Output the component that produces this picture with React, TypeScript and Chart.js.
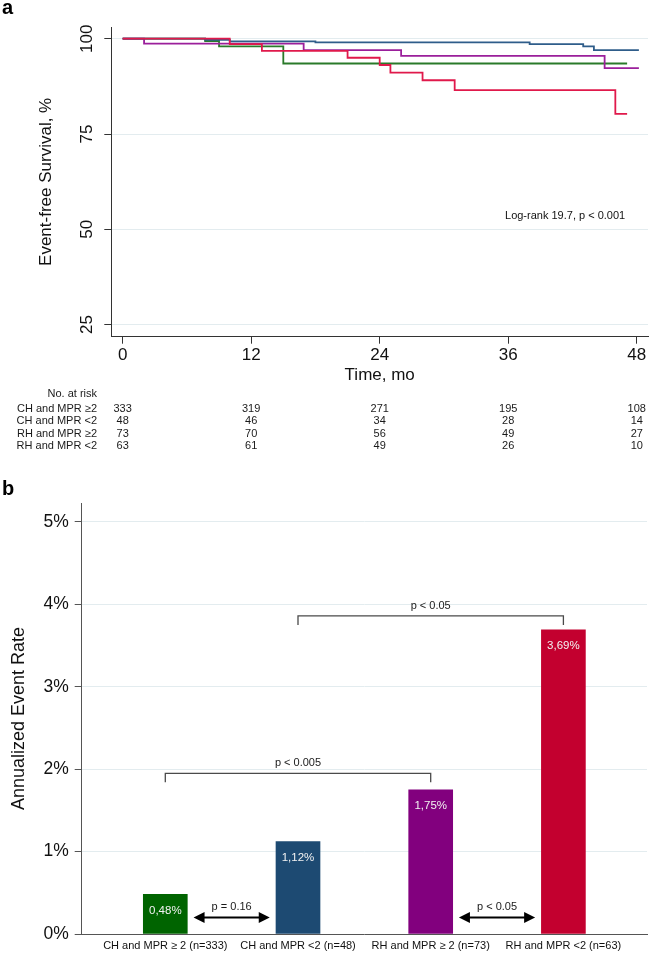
import React, { useEffect, useRef } from "react";
import { Chart, registerables } from "chart.js";

Chart.register(...registerables);

const FONT = "'Liberation Sans', Arial, Helvetica, sans-serif";

// ---------------- Panel a: Kaplan-Meier ----------------
const monthTicks = [0, 12, 24, 36, 48];
const survivalTicks = [25, 50, 75, 100];

const chGe2Times = [0, 7.7, 10, 18, 38, 43, 44, 48.2];
const chGe2Surv = [100, 99.7, 99.3, 99.05, 98.6, 98.0, 97.0, 97.0];
const chLt2Times = [0, 7.7, 9, 15, 47.1];
const chLt2Surv = [100, 99.4, 98.0, 93.5, 93.5];
const rhGe2Times = [0, 2, 16.9, 26, 45, 48.2];
const rhGe2Surv = [100, 98.7, 97.0, 95.5, 92.3, 92.3];
const rhLt2Times = [0, 10, 13, 21, 24, 25, 28, 31, 46, 47.1];
const rhLt2Surv = [100, 98.6, 96.8, 95.0, 93.1, 91.1, 89.1, 86.5, 80.3, 80.3];

const riskHeader = "No. at risk";
const riskGroups = ["CH and MPR \u22652", "CH and MPR <2", "RH and MPR \u22652", "RH and MPR <2"];
const riskChGe2 = [333, 319, 271, 195, 108];
const riskChLt2 = [48, 46, 34, 28, 14];
const riskRhGe2 = [73, 70, 56, 49, 27];
const riskRhLt2 = [63, 61, 49, 26, 10];
const riskRows = [riskChGe2, riskChLt2, riskRhGe2, riskRhLt2];

const kmYTitle = "Event-free Survival, %";
const kmXTitle = "Time, mo";
const logRankText = "Log-rank 19.7, p < 0.001";

// ---------------- Panel b: annualized event rate ----------------
const barCategories = [
  "CH and MPR \u2265 2 (n=333)",
  "CH and MPR <2 (n=48)",
  "RH and MPR \u2265 2 (n=73)",
  "RH and MPR <2 (n=63)",
];
const barRates = [0.48, 1.12, 1.75, 3.69];
const barColors = ["#006400", "#1d4a72", "#82007e", "#c3002f"];
const rateTicks = [0, 1, 2, 3, 4, 5];
const barYTitle = "Annualized Event Rate";

// bracket comparisons
const bracketFrom = [1, 2];
const bracketTo = [3, 4];
const bracketLevel = [1.95, 3.86];
const bracketText = ["p < 0.005", "p < 0.05"];
// double-arrow comparisons
const arrowCenter = [1.5, 3.5];
const arrowLevel = [0.2, 0.2];
const arrowText = ["p = 0.16", "p < 0.05"];

const KM_RED = "#e0194b";
const KM_BLUE = "#2f5d8a";
const KM_GREEN = "#2a7a2a";
const KM_PURPLE = "#9b1f9b";
const GRID = "#e3ecef";

function pts(t: number[], s: number[]) {
  return t.map((v, i) => ({ x: v, y: s[i] }));
}

function kmDataset(t: number[], s: number[], color: string) {
  return {
    data: pts(t, s),
    borderColor: color,
    backgroundColor: color,
    borderWidth: 1.8,
    pointRadius: 0,
    fill: false,
    stepped: true as const,
    tension: 0,
  };
}

const kmDecor = {
  id: "kmDecor",
  afterDraw(chart: any) {
    const { ctx } = chart;
    const x = chart.scales.x;
    const y = chart.scales.y;
    ctx.save();
    ctx.fillStyle = "#000";
    ctx.font = `bold 20px ${FONT}`;
    ctx.textAlign = "left";
    ctx.textBaseline = "alphabetic";
    ctx.fillText("a", 2, 14);

    // rotated y tick labels
    ctx.fillStyle = "#111";
    ctx.font = `17px ${FONT}`;
    survivalTicks.forEach((v) => {
      const py = y.getPixelForValue(v);
      ctx.save();
      ctx.translate(87, py);
      ctx.rotate(-Math.PI / 2);
      ctx.textAlign = "center";
      ctx.textBaseline = "middle";
      ctx.fillText(String(v), 0, 0);
      ctx.restore();
    });

    // y title
    ctx.save();
    ctx.translate(46, (chart.chartArea.top + chart.chartArea.bottom) / 2);
    ctx.rotate(-Math.PI / 2);
    ctx.textAlign = "center";
    ctx.textBaseline = "middle";
    ctx.font = `17px ${FONT}`;
    ctx.fillText(kmYTitle, 0, 0);
    ctx.restore();

    // x title
    ctx.textAlign = "center";
    ctx.textBaseline = "middle";
    ctx.font = `17px ${FONT}`;
    const xc = (x.getPixelForValue(monthTicks[0]) + x.getPixelForValue(monthTicks[monthTicks.length - 1])) / 2;
    ctx.fillText(kmXTitle, xc, 375);

    // log-rank annotation
    ctx.font = `11px ${FONT}`;
    ctx.textAlign = "left";
    ctx.fillStyle = "#111";
    ctx.fillText(logRankText, x.getPixelForValue(35.7), y.getPixelForValue(53.6));

    // number at risk table
    ctx.font = `11px ${FONT}`;
    ctx.fillStyle = "#1a1a1a";
    ctx.textAlign = "right";
    const headerY = 394;
    const rowY0 = 409;
    const rowStep = 12.3;
    ctx.fillText(riskHeader, 97, headerY);
    riskGroups.forEach((g, i) => {
      const ry = rowY0 + rowStep * i;
      ctx.textAlign = "right";
      ctx.fillText(g, 97, ry);
      ctx.textAlign = "center";
      riskRows[i].forEach((n, j) => {
        ctx.fillText(String(n), x.getPixelForValue(monthTicks[j]), ry);
      });
    });
    ctx.restore();
  },
};

const barDecor = {
  id: "barDecor",
  afterDraw(chart: any) {
    const { ctx } = chart;
    const x = chart.scales.x;
    const y = chart.scales.y;
    ctx.save();
    ctx.fillStyle = "#000";
    ctx.font = `bold 20px ${FONT}`;
    ctx.textAlign = "left";
    ctx.textBaseline = "alphabetic";
    ctx.fillText("b", 2, 40);

    // y title
    ctx.save();
    ctx.translate(19, (chart.chartArea.top + chart.chartArea.bottom) / 2);
    ctx.rotate(-Math.PI / 2);
    ctx.textAlign = "center";
    ctx.textBaseline = "middle";
    ctx.fillStyle = "#111";
    ctx.font = `18px ${FONT}`;
    ctx.fillText(barYTitle, 0, 0);
    ctx.restore();

    // value labels inside bars
    const meta = chart.getDatasetMeta(0);
    ctx.font = `11.5px ${FONT}`;
    ctx.fillStyle = "#f2f2f2";
    ctx.textAlign = "center";
    ctx.textBaseline = "middle";
    meta.data.forEach((bar: any, i: number) => {
      const label = barRates[i].toFixed(2).replace(".", ",") + "%";
      ctx.fillText(label, bar.x, bar.y + 16);
    });

    // brackets
    ctx.strokeStyle = "#4a4a4a";
    ctx.lineWidth = 1.3;
    ctx.fillStyle = "#1a1a1a";
    ctx.font = `11px ${FONT}`;
    bracketFrom.forEach((f, i) => {
      const x1 = x.getPixelForValue(f);
      const x2 = x.getPixelForValue(bracketTo[i]);
      const yl = y.getPixelForValue(bracketLevel[i]);
      const yd = y.getPixelForValue(bracketLevel[i] - 0.11);
      ctx.beginPath();
      ctx.moveTo(x1, yd);
      ctx.lineTo(x1, yl);
      ctx.lineTo(x2, yl);
      ctx.lineTo(x2, yd);
      ctx.stroke();
      ctx.fillText(bracketText[i], (x1 + x2) / 2, yl - 10);
    });

    // double arrows
    arrowCenter.forEach((c, i) => {
      const xa = x.getPixelForValue(c - 0.287);
      const xb = x.getPixelForValue(c + 0.287);
      const ya = y.getPixelForValue(arrowLevel[i]);
      const head = 11;
      const hw = 5.5;
      ctx.strokeStyle = "#000";
      ctx.fillStyle = "#000";
      ctx.lineWidth = 2;
      ctx.beginPath();
      ctx.moveTo(xa + head - 1, ya);
      ctx.lineTo(xb - head + 1, ya);
      ctx.stroke();
      ctx.beginPath();
      ctx.moveTo(xa, ya);
      ctx.lineTo(xa + head, ya - hw);
      ctx.lineTo(xa + head, ya + hw);
      ctx.closePath();
      ctx.fill();
      ctx.beginPath();
      ctx.moveTo(xb, ya);
      ctx.lineTo(xb - head, ya - hw);
      ctx.lineTo(xb - head, ya + hw);
      ctx.closePath();
      ctx.fill();
      ctx.fillStyle = "#1a1a1a";
      ctx.font = `11px ${FONT}`;
      ctx.fillText(arrowText[i], (xa + xb) / 2, ya - 11);
    });
    ctx.restore();
  },
};

export default function App() {
  const topRef = useRef<HTMLCanvasElement>(null);
  const botRef = useRef<HTMLCanvasElement>(null);

  useEffect(() => {
    const top = new Chart(topRef.current as HTMLCanvasElement, {
      type: "line",
      data: {
        datasets: [
          kmDataset(rhLt2Times, rhLt2Surv, KM_RED),
          kmDataset(chGe2Times, chGe2Surv, KM_BLUE),
          kmDataset(rhGe2Times, rhGe2Surv, KM_PURPLE),
          kmDataset(chLt2Times, chLt2Surv, KM_GREEN),
        ] as any,
      },
      options: {
        animation: false,
        responsive: false,
        devicePixelRatio: 1,
        layout: { padding: { top: 27, right: 1, left: 0, bottom: 0 } },
        plugins: { legend: { display: false }, tooltip: { enabled: false } },
        scales: {
          x: {
            type: "linear",
            min: -1.06,
            max: 49.05,
            afterFit: (s: any) => {
              s.height = 118.3;
            },
            border: { display: true, color: "#333", width: 1 },
            grid: { display: true, drawOnChartArea: false, drawTicks: true, tickLength: 7, tickColor: "#333" },
            ticks: {
              stepSize: 12,
              includeBounds: false,
              autoSkip: false,
              maxRotation: 0,
              minRotation: 0,
              padding: 1,
              color: "#111",
              font: { family: FONT, size: 17 },
            },
          },
          y: {
            type: "linear",
            min: 21.83,
            max: 103.07,
            afterFit: (s: any) => {
              s.width = 111.3;
            },
            border: { display: true, color: "#333", width: 1 },
            grid: { color: GRID, tickColor: "#333", tickLength: 7 },
            ticks: { display: false, stepSize: 25, includeBounds: false },
          },
        },
      } as any,
      plugins: [kmDecor],
    });

    const bot = new Chart(botRef.current as HTMLCanvasElement, {
      type: "bar",
      data: {
        datasets: [
          {
            data: barRates.map((r, i) => ({ x: i + 1, y: r })),
            backgroundColor: barColors,
            borderWidth: 0,
            barThickness: 44,
          },
        ] as any,
      },
      options: {
        animation: false,
        responsive: false,
        devicePixelRatio: 1,
        layout: { padding: { top: 48, right: 2, left: 0, bottom: 0 } },
        plugins: { legend: { display: false }, tooltip: { enabled: false } },
        scales: {
          x: {
            type: "linear",
            min: 0.37,
            max: 4.63,
            offset: false,
            afterFit: (s: any) => {
              s.height = 21;
            },
            border: { display: true, color: "#555", width: 1 },
            grid: { display: false, drawTicks: false, offset: false },
            ticks: {
              stepSize: 1,
              includeBounds: false,
              autoSkip: false,
              maxRotation: 0,
              minRotation: 0,
              padding: 5,
              color: "#111",
              font: { family: FONT, size: 11 },
              callback: (v: any) => barCategories[Number(v) - 1] ?? "",
            },
          },
          y: {
            type: "linear",
            min: 0,
            max: 5.23,
            afterFit: (s: any) => {
              s.width = 81.7;
            },
            border: { display: true, color: "#555", width: 1 },
            grid: { color: GRID, tickColor: "#555", tickLength: 7 },
            ticks: {
              stepSize: 1,
              includeBounds: false,
              padding: 6,
              color: "#111",
              font: { family: FONT, size: 17.5 },
              callback: (v: any) => (rateTicks.includes(Number(v)) ? `${v}%` : ""),
            },
          },
        },
      } as any,
      plugins: [barDecor],
    });

    return () => {
      top.destroy();
      bot.destroy();
    };
  }, []);

  return (
    <div style={{ position: "absolute", left: 0, top: 0, width: 649, height: 955, background: "#fff" }}>
      <canvas
        ref={topRef}
        width={649}
        height={455}
        style={{ position: "absolute", left: 0, top: 0, width: 649, height: 455 }}
      />
      <canvas
        ref={botRef}
        width={649}
        height={500}
        style={{ position: "absolute", left: 0, top: 455, width: 649, height: 500 }}
      />
    </div>
  );
}
